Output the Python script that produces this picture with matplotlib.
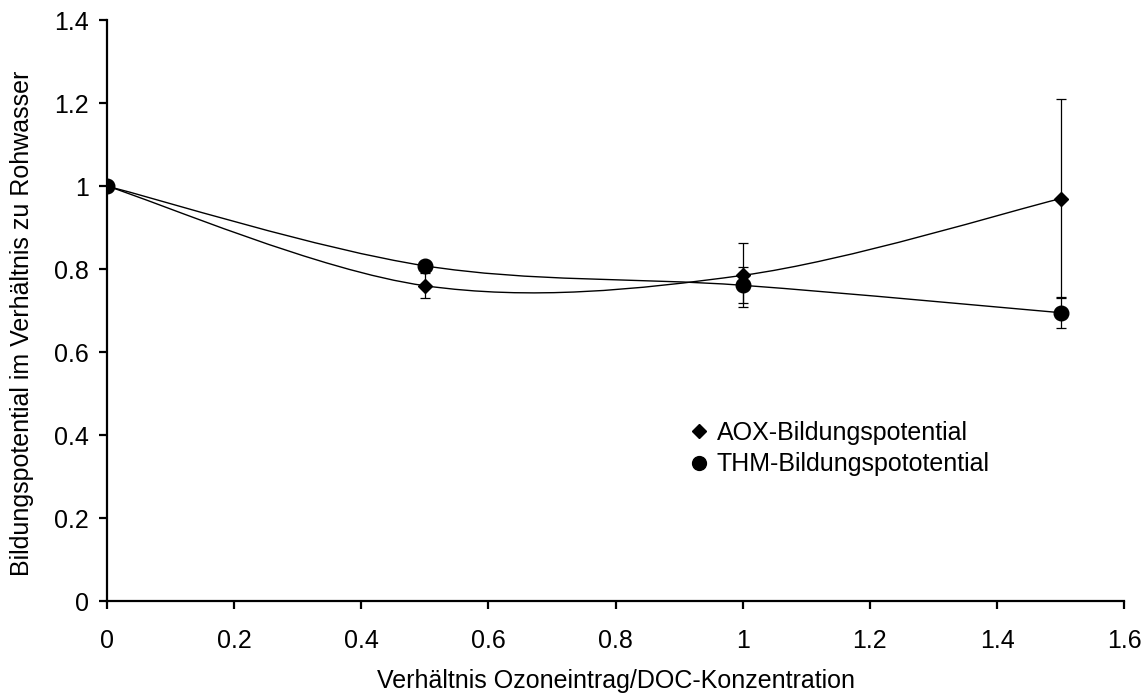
import matplotlib
matplotlib.use("Agg")
import matplotlib.pyplot as plt
import numpy as np
from matplotlib.path import Path
from matplotlib.patches import PathPatch
from matplotlib.ticker import FuncFormatter

plt.rcParams['font.family'] = ['Liberation Sans', 'DejaVu Sans']

# Ozone dose / DOC ratio and normalised formation potentials
ratio = [0.0, 0.5, 1.0, 1.5]
aox = [1.0, 0.76, 0.785, 0.97]
aox_err = [0.0, 0.03, 0.077, 0.24]
thm = [1.0, 0.808, 0.761, 0.695]
thm_err = [0.0, 0.01, 0.043, 0.037]


def smooth_path(xs, ys):
    """Bezier path through the points (spreadsheet-style smoothed line)."""
    pts = np.column_stack([xs, ys])
    ext = np.vstack([pts[0], pts, pts[-1]])
    verts = [tuple(pts[0])]
    codes = [Path.MOVETO]
    for i in range(len(pts) - 1):
        p0, p1, p2, p3 = ext[i], ext[i + 1], ext[i + 2], ext[i + 3]
        c1 = p1 + (p2 - p0) / 6.0
        c2 = p2 - (p3 - p1) / 6.0
        verts += [tuple(c1), tuple(c2), tuple(p2)]
        codes += [Path.CURVE4] * 3
    return Path(verts, codes)


fig = plt.figure(figsize=(11.46, 6.97), dpi=100)
ax = fig.add_axes([0.0934, 0.1377, 0.8876, 0.8333])

for ys in (aox, thm):
    ax.add_patch(PathPatch(smooth_path(ratio, ys), facecolor='none',
                           edgecolor='black', lw=1.0, zorder=2))

ax.errorbar(ratio, aox, yerr=aox_err, fmt='none', ecolor='black',
            elinewidth=0.9, capsize=3.5, capthick=0.9, zorder=3)
ax.errorbar(ratio, thm, yerr=thm_err, fmt='none', ecolor='black',
            elinewidth=0.9, capsize=3.5, capthick=0.9, zorder=3)
ax.plot(ratio, aox, linestyle='none', marker='D', markersize=7.5,
        color='black', label='AOX-Bildungspotential', zorder=4)
ax.plot(ratio, thm, linestyle='none', marker='o', markersize=10.5,
        color='black', label='THM-Bildungspototential', zorder=4)

ax.set_xlim(0, 1.6)
ax.set_ylim(0, 1.4)
ax.set_xticks(np.arange(0, 1.61, 0.2))
ax.set_yticks(np.arange(0, 1.41, 0.2))
fmt = FuncFormatter(lambda v, p: f"{v:.1f}".rstrip('0').rstrip('.'))
ax.xaxis.set_major_formatter(fmt)
ax.yaxis.set_major_formatter(fmt)

for s in ('top', 'right'):
    ax.spines[s].set_visible(False)
for s in ('left', 'bottom'):
    ax.spines[s].set_linewidth(1.6)
ax.tick_params(direction='out', length=6, width=1.6, labelsize=18)
ax.tick_params(axis='x', pad=14)
ax.tick_params(axis='y', pad=7)

ax.set_xlabel('Verhältnis Ozoneintrag/DOC-Konzentration', fontsize=18, labelpad=12)
ax.set_ylabel('Bildungspotential im Verhältnis zu Rohwasser', fontsize=18)
ax.yaxis.set_label_coords(-0.072, 0.478)

leg = ax.legend(loc='upper left', bbox_to_anchor=(0.575, 0.31), frameon=False,
                fontsize=18, handlelength=0.6, handletextpad=0.4,
                labelspacing=0.3, borderaxespad=0, borderpad=0,
                markerscale=0.95)

fig.savefig('out.png', dpi=100)
